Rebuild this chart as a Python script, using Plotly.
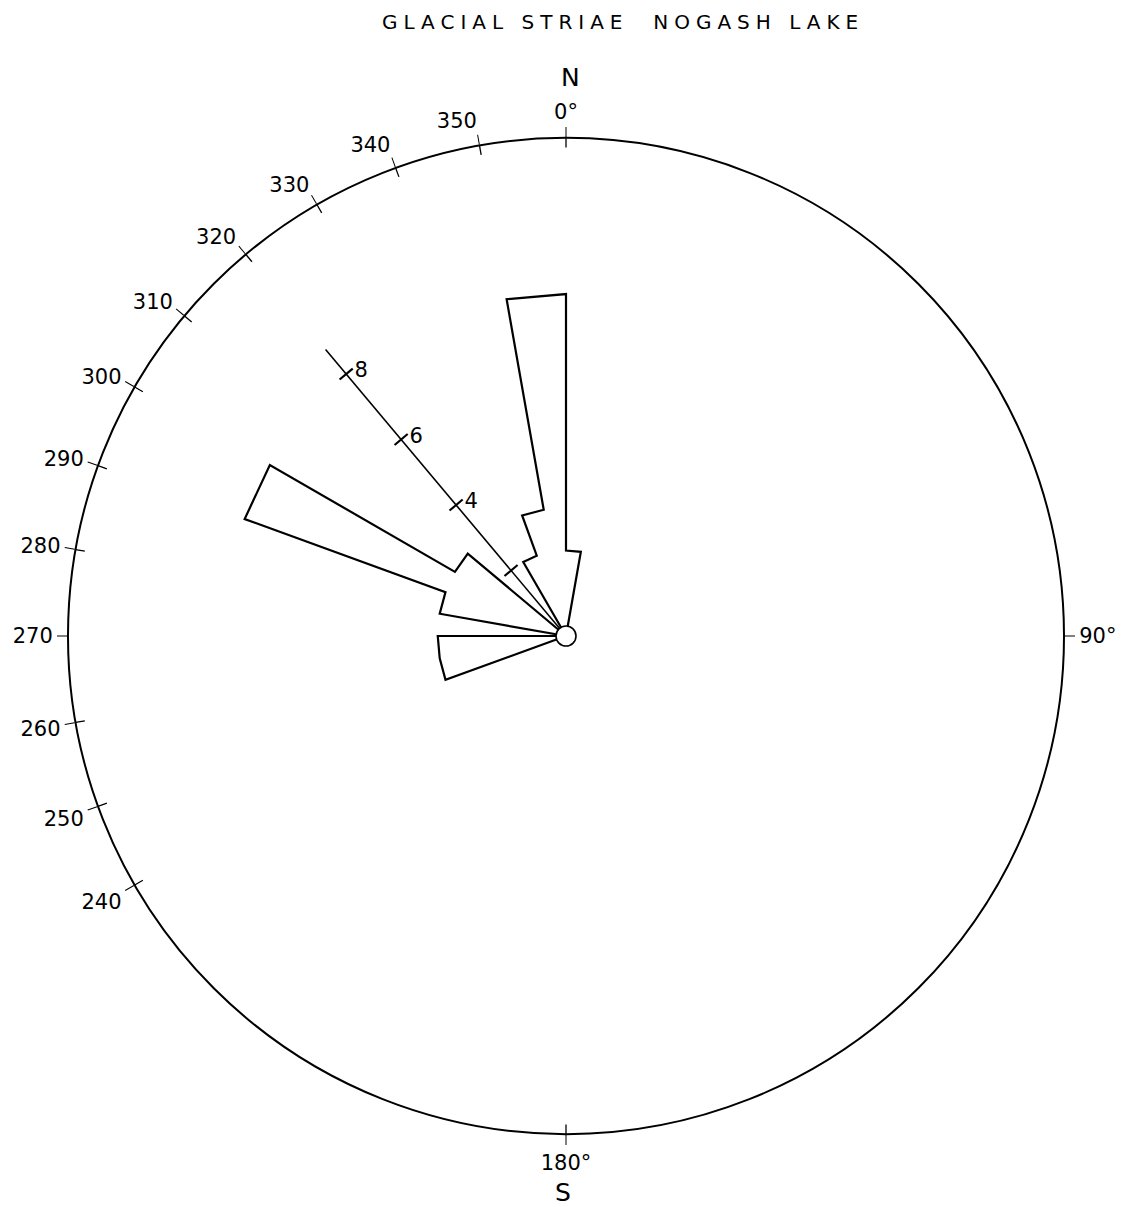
import math
import plotly.graph_objects as go

# Rose diagram of glacial striae bearings, 10-degree classes
BIN_WIDTH = 10
bin_starts = [250, 260, 280, 290, 300, 330, 340, 350, 0]
counts = [3, 3, 3, 8, 3, 2, 3, 8, 2]

# Compass labels around the circle
angle_ticks = [0, 90, 180, 240, 250, 260, 270, 280, 290, 300, 310, 320, 330, 340, 350]
angle_labels = ["0°", "90°", "180°", "240", "250", "260", "270", "280", "290",
                "300", "310", "320", "330", "340", "350"]

# Count scale drawn along one bearing
scale_bearing = 320
scale_length = 8.75
scale_ticks = [2, 4, 6, 8]
scale_labels = ["", "4", "6", "8"]

R_MAX = 11.65
SCALE_TICK_HALF = 0.2   # half-length of the scale tick bars, in count units
FONT = "DejaVu Sans"
INK = "black"

# Group neighbouring classes so each petal cluster is drawn as one outline
vals = dict(zip(bin_starts, counts))
groups = []
for s in sorted(vals):
    if (s - BIN_WIDTH) % 360 in vals:
        continue
    g = [s]
    nxt = (s + BIN_WIDTH) % 360
    while nxt in vals and nxt != s:
        g.append(nxt)
        nxt = (nxt + BIN_WIDTH) % 360
    groups.append(g)

fig = go.Figure()

# Scale line along its bearing
fig.add_trace(go.Scatterpolar(
    r=[0, scale_length], theta=[scale_bearing, scale_bearing],
    mode="lines", line=dict(color=INK, width=1.6),
    hoverinfo="skip", showlegend=False,
))

# Tick bars crossing the scale line
tick_r, tick_t = [], []
for t in scale_ticks:
    d = math.degrees(math.atan(SCALE_TICK_HALF / t))
    rr = math.hypot(t, SCALE_TICK_HALF)
    tick_r += [rr, rr, None]
    tick_t += [scale_bearing - d, scale_bearing + d, None]
fig.add_trace(go.Scatterpolar(
    r=tick_r, theta=tick_t, mode="lines",
    line=dict(color=INK, width=2.2), hoverinfo="skip", showlegend=False,
))

# Petal outlines
for g in groups:
    rr, tt = [0], [g[0]]
    for b in g:
        rr += [vals[b], vals[b]]
        tt += [b, b + BIN_WIDTH]
    rr.append(0)
    tt.append(g[-1] + BIN_WIDTH)
    fig.add_trace(go.Scatterpolar(
        r=rr, theta=tt, mode="lines", fill="toself",
        fillcolor="white", line=dict(color=INK, width=2.2),
        hoverinfo="skip", showlegend=False,
    ))

# Inner half of the compass tick crosses
cross_r, cross_t = [], []
for a in angle_ticks:
    if a in (90, 270):
        continue
    cross_r += [R_MAX - 0.22, R_MAX, None]
    cross_t += [a, a, None]
fig.add_trace(go.Scatterpolar(
    r=cross_r, theta=cross_t, mode="lines",
    line=dict(color=INK, width=1.3), hoverinfo="skip", showlegend=False,
))

# Small circle at the origin
fig.add_trace(go.Scatterpolar(
    r=[0], theta=[0], mode="markers",
    marker=dict(size=20, color="white", line=dict(color=INK, width=1.6)),
    hoverinfo="skip", showlegend=False,
))

# radialaxis.angle uses the mathematical convention (counter-clockwise from east)
radial_angle = (90 - scale_bearing) % 360

fig.update_layout(
    width=1122, height=1207, autosize=False,
    margin=dict(l=0, r=0, t=0, b=0),
    paper_bgcolor="white",
    font=dict(family=FONT, color=INK, size=19),
    showlegend=False,
    polar=dict(
        domain=dict(x=[66 / 1122, 1066 / 1122], y=[1 - 1134 / 1207, 1 - 138 / 1207]),
        bgcolor="white",
        angularaxis=dict(
            rotation=90, direction="clockwise",
            tickmode="array", tickvals=angle_ticks, ticktext=angle_labels,
            showline=True, linecolor=INK, linewidth=2,
            showgrid=False, ticks="outside", ticklen=10, tickwidth=1.3,
            tickcolor=INK, tickfont=dict(family=FONT, size=21, color=INK),
        ),
        radialaxis=dict(
            range=[0, R_MAX], angle=radial_angle, side="clockwise",
            showline=False, showgrid=False, ticks="",
            tickmode="array", tickvals=scale_ticks, ticktext=scale_labels,
            tickangle=radial_angle,
            tickfont=dict(family=FONT, size=21, color=INK),
        ),
    ),
    annotations=[
        dict(text='<span style="letter-spacing:6px">GLACIAL STRIAE  NOGASH LAKE</span>',
             x=623 / 1122, y=1 - 22 / 1207, xref="paper", yref="paper",
             xanchor="center", yanchor="middle",
             showarrow=False, font=dict(family=FONT, size=20, color=INK)),
        dict(text="N", x=570 / 1122, y=1 - 78 / 1207, xref="paper", yref="paper",
             xanchor="center", yanchor="middle",
             showarrow=False, font=dict(family=FONT, size=25, color=INK)),
        dict(text="S", x=563 / 1122, y=1 - 1192 / 1207, xref="paper", yref="paper",
             xanchor="center", yanchor="middle",
             showarrow=False, font=dict(family=FONT, size=25, color=INK)),
    ],
)

fig.write_html("out.html")
